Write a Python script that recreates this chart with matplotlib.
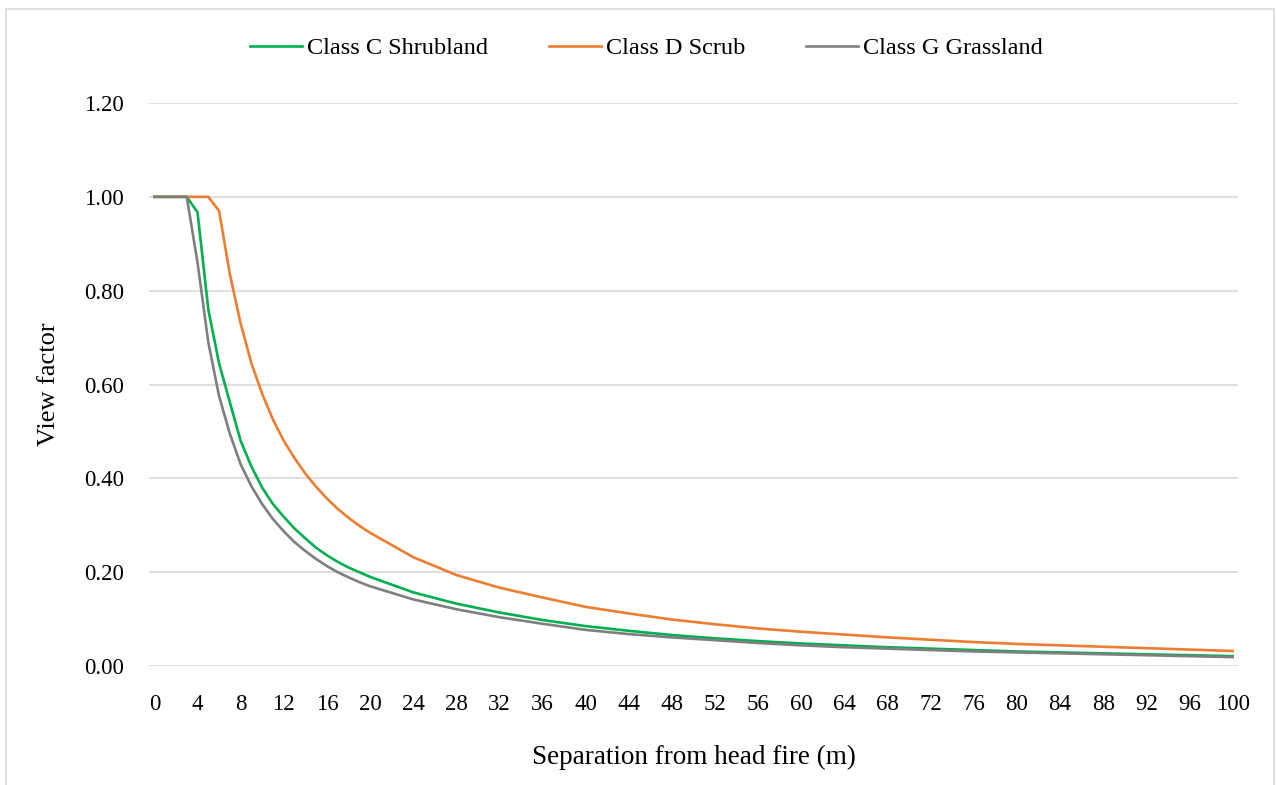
import numpy as np
import matplotlib
matplotlib.use("Agg")
import matplotlib.pyplot as plt
from matplotlib.patches import Rectangle

# Separation from head fire (m): every metre near the fire, every 4 m further out
separation = list(range(0, 21)) + list(range(24, 101, 4))

class_c_shrubland = [1.0, 1.0, 1.0, 1.0, 0.967, 0.76, 0.645, 0.562, 0.48, 0.425,
                     0.38, 0.345, 0.318, 0.293, 0.272, 0.252, 0.236, 0.222, 0.21, 0.2,
                     0.19,
                     0.157, 0.133, 0.114, 0.098, 0.085, 0.075, 0.066, 0.059, 0.053, 0.048,
                     0.044, 0.040, 0.037, 0.034, 0.031, 0.029, 0.027, 0.025, 0.023, 0.021]

class_d_scrub = [1.0, 1.0, 1.0, 1.0, 1.0, 1.0, 0.97, 0.835, 0.73, 0.645,
                 0.58, 0.525, 0.48, 0.443, 0.41, 0.382, 0.357, 0.335, 0.316, 0.299,
                 0.284,
                 0.232, 0.194, 0.167, 0.146, 0.126, 0.112, 0.099, 0.089, 0.080, 0.073,
                 0.067, 0.061, 0.056, 0.051, 0.047, 0.044, 0.041, 0.038, 0.035, 0.032]

class_g_grassland = [1.0, 1.0, 1.0, 1.0, 0.86, 0.69, 0.575, 0.495, 0.43, 0.383,
                     0.345, 0.313, 0.287, 0.264, 0.245, 0.228, 0.213, 0.2, 0.189, 0.179,
                     0.17,
                     0.142, 0.121, 0.104, 0.090, 0.077, 0.068, 0.061, 0.055, 0.049, 0.044,
                     0.040, 0.037, 0.034, 0.031, 0.029, 0.027, 0.025, 0.023, 0.021, 0.019]

series_names = ["Class C Shrubland", "Class D Scrub", "Class G Grassland"]
series_colors = ["#00b050", "#ed7d31", "#7f7f7f"]

x_ticks = list(range(0, 101, 4))
y_ticks = [0.0, 0.2, 0.4, 0.6, 0.8, 1.0, 1.2]


def main():
    plt.rcParams['font.family'] = ['Liberation Serif', 'DejaVu Serif']

    fig = plt.figure(figsize=(12.77, 7.85), dpi=100)
    ax = fig.add_axes([149 / 1277, 1 - 666 / 785, 1089 / 1277, 563 / 785])

    # light frame round the whole chart
    fig.patches.append(Rectangle((6 / 1277, -0.01), 1268 / 1277, 1 - 9 / 785 + 0.01,
                                 transform=fig.transFigure, fill=False,
                                 edgecolor="#d9d9d9", linewidth=1.2))

    all_series = [class_c_shrubland, class_d_scrub, class_g_grassland]
    for values, name, color in zip(all_series, series_names, series_colors):
        ax.plot(separation, values, color=color, linewidth=1.9, label=name,
                solid_joinstyle="round")

    ax.set_xlim(-0.5, 100.5)
    ax.set_ylim(0, 1.2)
    ax.set_xticks(x_ticks)
    ax.set_yticks(y_ticks)
    ax.set_yticklabels(["%.2f" % v for v in y_ticks])
    ax.tick_params(axis="both", length=0, labelsize=16.5, colors="black")
    ax.tick_params(axis="y", pad=18)
    ax.tick_params(axis="x", pad=20)

    ax.grid(axis="y", color="#d9d9d9", linewidth=1.2)
    ax.set_axisbelow(True)
    for side in ["top", "right", "left", "bottom"]:
        ax.spines[side].set_visible(False)

    ax.set_ylabel("View factor", fontsize=19)
    ax.yaxis.set_label_coords(-0.082, 0.5)
    ax.set_xlabel("Separation from head fire (m)", fontsize=19.5)
    ax.xaxis.set_label_coords(0.5, -0.14)

    ax.legend(loc="center", bbox_to_anchor=(0.506, 1 - 48 / 785),
              bbox_transform=fig.transFigure, ncol=3, frameon=False,
              fontsize=17.5, handlelength=2.15, handletextpad=0.2,
              columnspacing=2.5)

    fig.savefig("out.png", dpi=100)


if __name__ == '__main__':
    main()
